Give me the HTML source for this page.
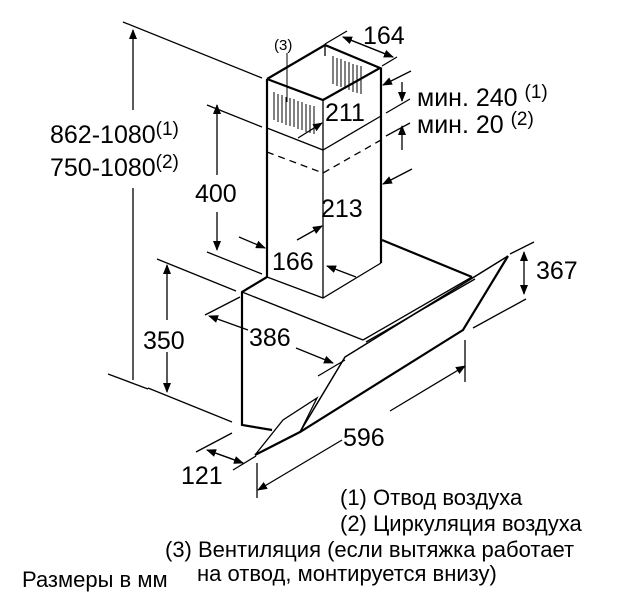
<!DOCTYPE html>
<html><head><meta charset="utf-8"><style>
html,body{margin:0;padding:0;background:#fff;}
svg{display:block;}
text{font-family:"Liberation Sans",sans-serif;fill:#000;}
</style></head><body>
<svg width="638" height="603" viewBox="0 0 638 603" xmlns="http://www.w3.org/2000/svg">
<defs>
<marker id="a" markerWidth="10" markerHeight="8" refX="9" refY="4" orient="auto" markerUnits="userSpaceOnUse">
<path d="M0,0 L10,4 L0,8 z" fill="#000"/></marker>
</defs>
<g stroke="#000" fill="none" stroke-width="1.3">
<polyline points="267,79 325,45 380,68 323,100 267,79" stroke-width="2.2"/>
<line x1="267" y1="79" x2="267" y2="277" stroke-width="2.2"/>
<line x1="323" y1="100" x2="323" y2="298"/>
<line x1="381" y1="68" x2="381" y2="263" stroke-width="2.2"/>
<line x1="325" y1="45" x2="325" y2="56"/>
<polyline points="267,128 323,150 381,116"/>
<polyline points="267,152 323,173 381,140" stroke-dasharray="7,5"/>
<polyline points="267,277 323,298 381,263"/>
<g stroke-width="1">
<path d="M274,92v28M278,94v28M282,95v28M286,97v28M290,98v28M294,99v28M298,101v28M302,102v28M306,104v28M310,105v28M314,106v28"/>
<path d="M333,56v28M337,58v28M341,59v28M345,61v28M349,62v28M353,64v28M357,65v28M361,66v28"/>
</g>
<polyline points="267,277 242,292 242,425 272,430" stroke-width="2.2"/>
<line x1="242" y1="292" x2="363" y2="340"/>
<line x1="382" y1="240" x2="472" y2="277" stroke-width="2.2"/>
<line x1="472" y1="277" x2="363" y2="340"/>
<line x1="475" y1="279" x2="366" y2="342"/>
<polyline points="508,256 345,357 300,432" stroke-width="1.5"/>
<polyline points="508,256 463,330 300,432 255,455" stroke-width="2.2"/>
<polyline points="255,455 283,420 317,398 300,432" stroke-width="1.3"/>
<line x1="133" y1="110" x2="133" y2="30" marker-end="url(#a)"/>
<line x1="133" y1="188" x2="133" y2="380"/>
<line x1="123" y1="22" x2="262" y2="78"/>
<line x1="217" y1="175" x2="217" y2="105" marker-end="url(#a)"/>
<line x1="217" y1="212" x2="217" y2="250" marker-end="url(#a)"/>
<line x1="207" y1="105" x2="262" y2="127"/>
<line x1="207" y1="252" x2="262" y2="274"/>
<line x1="167" y1="320" x2="167" y2="265" marker-end="url(#a)"/>
<line x1="167" y1="352" x2="167" y2="392" marker-end="url(#a)"/>
<line x1="157" y1="259" x2="236" y2="291"/>
<line x1="148" y1="388" x2="232" y2="422"/>
<line x1="108" y1="374" x2="148" y2="389"/>
<line x1="205" y1="315" x2="240" y2="297"/>
<line x1="248" y1="330" x2="209" y2="316" marker-end="url(#a)"/>
<line x1="296" y1="348" x2="333" y2="363" marker-end="url(#a)"/>
<line x1="318" y1="376" x2="345" y2="360"/>
<line x1="390" y1="411" x2="465" y2="366" marker-end="url(#a)"/>
<line x1="342" y1="440" x2="258" y2="490" marker-end="url(#a)"/>
<line x1="257" y1="463" x2="257" y2="498"/>
<line x1="465" y1="340" x2="465" y2="382"/>
<line x1="207" y1="450" x2="243" y2="463" marker-end="url(#a)"/>
<line x1="243" y1="463" x2="207" y2="450" marker-end="url(#a)"/>
<line x1="196" y1="452" x2="232" y2="433"/>
<line x1="233" y1="470" x2="256" y2="456"/>
<line x1="524" y1="272" x2="524" y2="252" marker-end="url(#a)"/>
<line x1="524" y1="272" x2="524" y2="294" marker-end="url(#a)"/>
<line x1="510" y1="254" x2="534" y2="242"/>
<line x1="473" y1="328" x2="526" y2="299"/>
<line x1="343" y1="37" x2="393" y2="57" marker-end="url(#a)"/>
<line x1="393" y1="57" x2="343" y2="37" marker-end="url(#a)"/>
<line x1="325" y1="44" x2="347" y2="31"/>
<line x1="382" y1="66" x2="397" y2="57"/>
<line x1="298" y1="138" x2="322" y2="123" marker-end="url(#a)"/>
<line x1="411" y1="71" x2="383" y2="85" marker-end="url(#a)"/>
<line x1="402" y1="82" x2="402" y2="101" marker-end="url(#a)"/>
<line x1="386" y1="113" x2="410" y2="99"/>
<line x1="386" y1="136" x2="410" y2="123"/>
<line x1="402" y1="150" x2="402" y2="126" marker-end="url(#a)"/>
<line x1="412" y1="169" x2="383" y2="184" marker-end="url(#a)"/>
<line x1="297" y1="240" x2="322" y2="226" marker-end="url(#a)"/>
<line x1="356" y1="277" x2="327" y2="266" marker-end="url(#a)"/>
<line x1="239" y1="237" x2="265" y2="248" marker-end="url(#a)"/>
<line x1="287" y1="53" x2="287" y2="102" stroke-width="1"/>
</g>
<g font-size="25">
<text x="50" y="143">862-1080<tspan font-size="19" dy="-8">(1)</tspan></text>
<text x="50" y="176">750-1080<tspan font-size="19" dy="-8">(2)</tspan></text>
<text x="195" y="202">400</text>
<text x="143" y="349">350</text>
<text x="249" y="346">386</text>
<text x="343" y="446">596</text>
<text x="181" y="484">121</text>
<text x="536" y="279">367</text>
<text x="363" y="44">164</text>
<text x="325" y="121">211</text>
<text x="321" y="217">213</text>
<text x="272" y="270">166</text>
<text x="417" y="106">мин. 240 <tspan font-size="19" dy="-8">(1)</tspan></text>
<text x="417" y="133">мин. 20 <tspan font-size="19" dy="-8">(2)</tspan></text>
</g>
<text x="274" y="50" font-size="15">(3)</text>
<g font-size="22">
<text x="340" y="505">(1) Отвод воздуха</text>
<text x="340" y="531">(2) Циркуляция воздуха</text>
<text x="165" y="557">(3) Вентиляция (если вытяжка работает</text>
<text x="197" y="581">на отвод, монтируется внизу)</text>
<text x="22" y="587">Размеры в мм</text>
</g>
</svg>
</body></html>
